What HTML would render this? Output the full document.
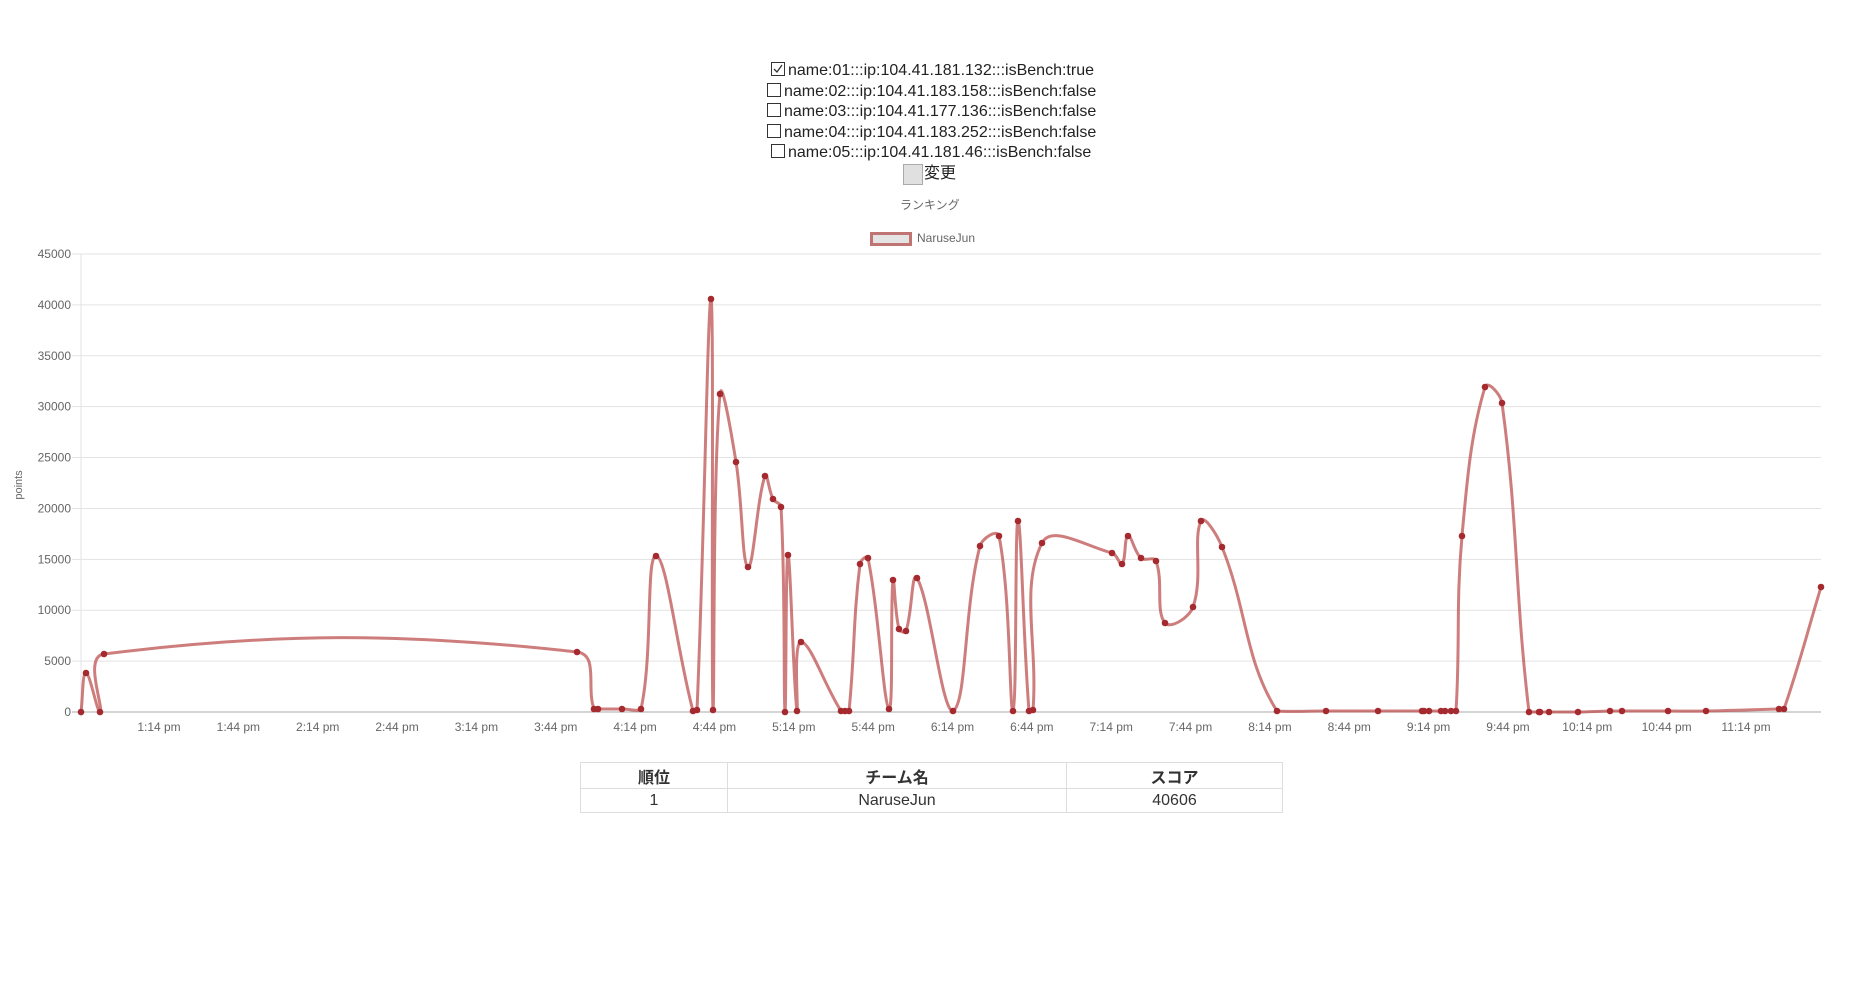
<!DOCTYPE html>
<html><head><meta charset="utf-8"><style>
body{margin:0;width:1858px;height:1006px;background:#fff;position:relative;overflow:hidden;font-family:"Liberation Sans","Noto Sans CJK JP",sans-serif;}
.a{position:absolute;white-space:nowrap;}
.cl{font-size:16px;color:#222;line-height:20px;}
.cb{display:inline-block;width:12px;height:12px;border:1px solid #333;vertical-align:-1px;margin-right:3px;position:relative;}
table{position:absolute;left:580px;top:762px;width:703px;border-collapse:collapse;font-size:16px;color:#333;}
td,th{border:1px solid #ddd;text-align:center;padding:0;}
th{height:25px;font-weight:bold;}
td{height:23px;}
</style></head><body>
<div class="a cl" style="left:771px;top:61px"><span class="cb"><svg width="12" height="12" style="position:absolute;left:0;top:0"><path d="M2 6 L5 9 L10 2" stroke="#333" stroke-width="1.3" fill="none"/></svg></span>name:01:::ip:104.41.181.132:::isBench:true</div>
<div class="a cl" style="left:767px;top:82px"><span class="cb"></span>name:02:::ip:104.41.183.158:::isBench:false</div>
<div class="a cl" style="left:767px;top:102px"><span class="cb"></span>name:03:::ip:104.41.177.136:::isBench:false</div>
<div class="a cl" style="left:767px;top:123px"><span class="cb"></span>name:04:::ip:104.41.183.252:::isBench:false</div>
<div class="a cl" style="left:771px;top:143px"><span class="cb"></span>name:05:::ip:104.41.181.46:::isBench:false</div>
<div class="a" style="left:903px;top:164px;width:18px;height:19px;background:#e0e0e0;border:1px solid #aaa"></div>
<div class="a cl" style="left:924px;top:164px">変更</div>
<div class="a" style="left:900px;top:196px;font-size:12px;color:#666">ランキング</div>
<div class="a" style="left:870px;top:232px;width:36px;height:8px;background:#e4e4e4;border:3px solid #c07474"></div>
<div class="a" style="left:917px;top:231px;font-size:12px;color:#666">NaruseJun</div>
<svg class="a" style="left:0;top:0" width="1858" height="760" id="s"></svg>
<table><tr><th style="width:146px">順位</th><th style="width:338px">チーム名</th><th>スコア</th></tr>
<tr><td>1</td><td>NaruseJun</td><td>40606</td></tr></table>
<script>
var s=document.getElementById('s'),h='';
var x0=81,x1=1821,y0=712,top_=254;
for(var i=0;i<=9;i++){var y=y0-i*(y0-top_)/9;
 h+='<line x1="'+(i==0?72:72)+'" x2="'+x1+'" y1="'+y+'" y2="'+y+'" stroke="'+(i==0?'#aaa':'#e3e3e3')+'" stroke-width="1"/>';
 h+='<text x="71" y="'+(y+4)+'" text-anchor="end" font-size="12" fill="#666" font-family="Liberation Sans,sans-serif">'+(i*5000)+'</text>';}
h+='<line x1="'+x0+'" x2="'+x0+'" y1="'+top_+'" y2="'+(y0+5)+'" stroke="#e3e3e3"/>';
var labs=['1:14 pm','1:44 pm','2:14 pm','2:44 pm','3:14 pm','3:44 pm','4:14 pm','4:44 pm','5:14 pm','5:44 pm','6:14 pm','6:44 pm','7:14 pm','7:44 pm','8:14 pm','8:44 pm','9:14 pm','9:44 pm','10:14 pm','10:44 pm','11:14 pm'];
for(var i=0;i<labs.length;i++){var x=159+i*79.35;h+='<text x="'+x+'" y="731" text-anchor="middle" font-size="12" fill="#666" font-family="Liberation Sans,sans-serif">'+labs[i]+'</text>';}
h+='<text transform="translate(22,485) rotate(-90)" text-anchor="middle" font-size="11" fill="#666" font-family="Liberation Sans,sans-serif">points</text>';
var P=[[81,712],[86,673],[100,712],[104,654],[577,652],[594,709],[598,709],[622,709],[641,709],[656,556],[693,711],[697,710],[711,299],[713,710],[720,394],[736,462],[748,567],[765,476],[773,499],[781,507],[785,712],[788,555],[797,711],[801,642],[841,711],[845,711],[849,711],[860,564],[868,558],[889,709],[893,580],[899,629],[906,631],[917,578],[953,711],[980,546],[999,536],[1013,711],[1018,521],[1029,711],[1033,710],[1042,543],[1112,553],[1122,564],[1128,536],[1141,558],[1156,561],[1165,623],[1193,607],[1201,521],[1222,547],[1277,711],[1326,711],[1378,711],[1422,711],[1424,711],[1429,711],[1441,711],[1445,711],[1451,711],[1456,711],[1462,536],[1485,387],[1502,403],[1529,712],[1539,712],[1540,712],[1549,712],[1578,712],[1610,711],[1622,711],[1668,711],[1706,711],[1779,709],[1784,709],[1821,587]];
var t=0.4,cp=[];
function cl(v,a,b){return Math.max(a,Math.min(b,v));}
for(var i=0;i<P.length;i++){var p=P[i==0?0:i-1],c=P[i],n=P[i==P.length-1?i:i+1];
 var d01=Math.hypot(c[0]-p[0],c[1]-p[1]),d12=Math.hypot(n[0]-c[0],n[1]-c[1]);
 var s01=d01/(d01+d12||1),s12=d12/(d01+d12||1);var fa=t*s01,fb=t*s12;
 cp.push([[cl(c[0]-fa*(n[0]-p[0]),x0,x1),cl(c[1]-fa*(n[1]-p[1]),top_,y0)],[cl(c[0]+fb*(n[0]-p[0]),x0,x1),cl(c[1]+fb*(n[1]-p[1]),top_,y0)]]);}
var d='M'+P[0][0]+' '+P[0][1];
for(var i=1;i<P.length;i++){d+=' C'+cp[i-1][1][0]+' '+cp[i-1][1][1]+' '+cp[i][0][0]+' '+cp[i][0][1]+' '+P[i][0]+' '+P[i][1];}
h+='<path d="'+d+'" fill="none" stroke="rgba(185,70,70,0.7)" stroke-width="3"/>';
for(var i=0;i<P.length;i++)h+='<circle cx="'+P[i][0]+'" cy="'+P[i][1]+'" r="3.3" fill="#a52a2f"/>';
s.innerHTML=h;
</script>
</body></html>
